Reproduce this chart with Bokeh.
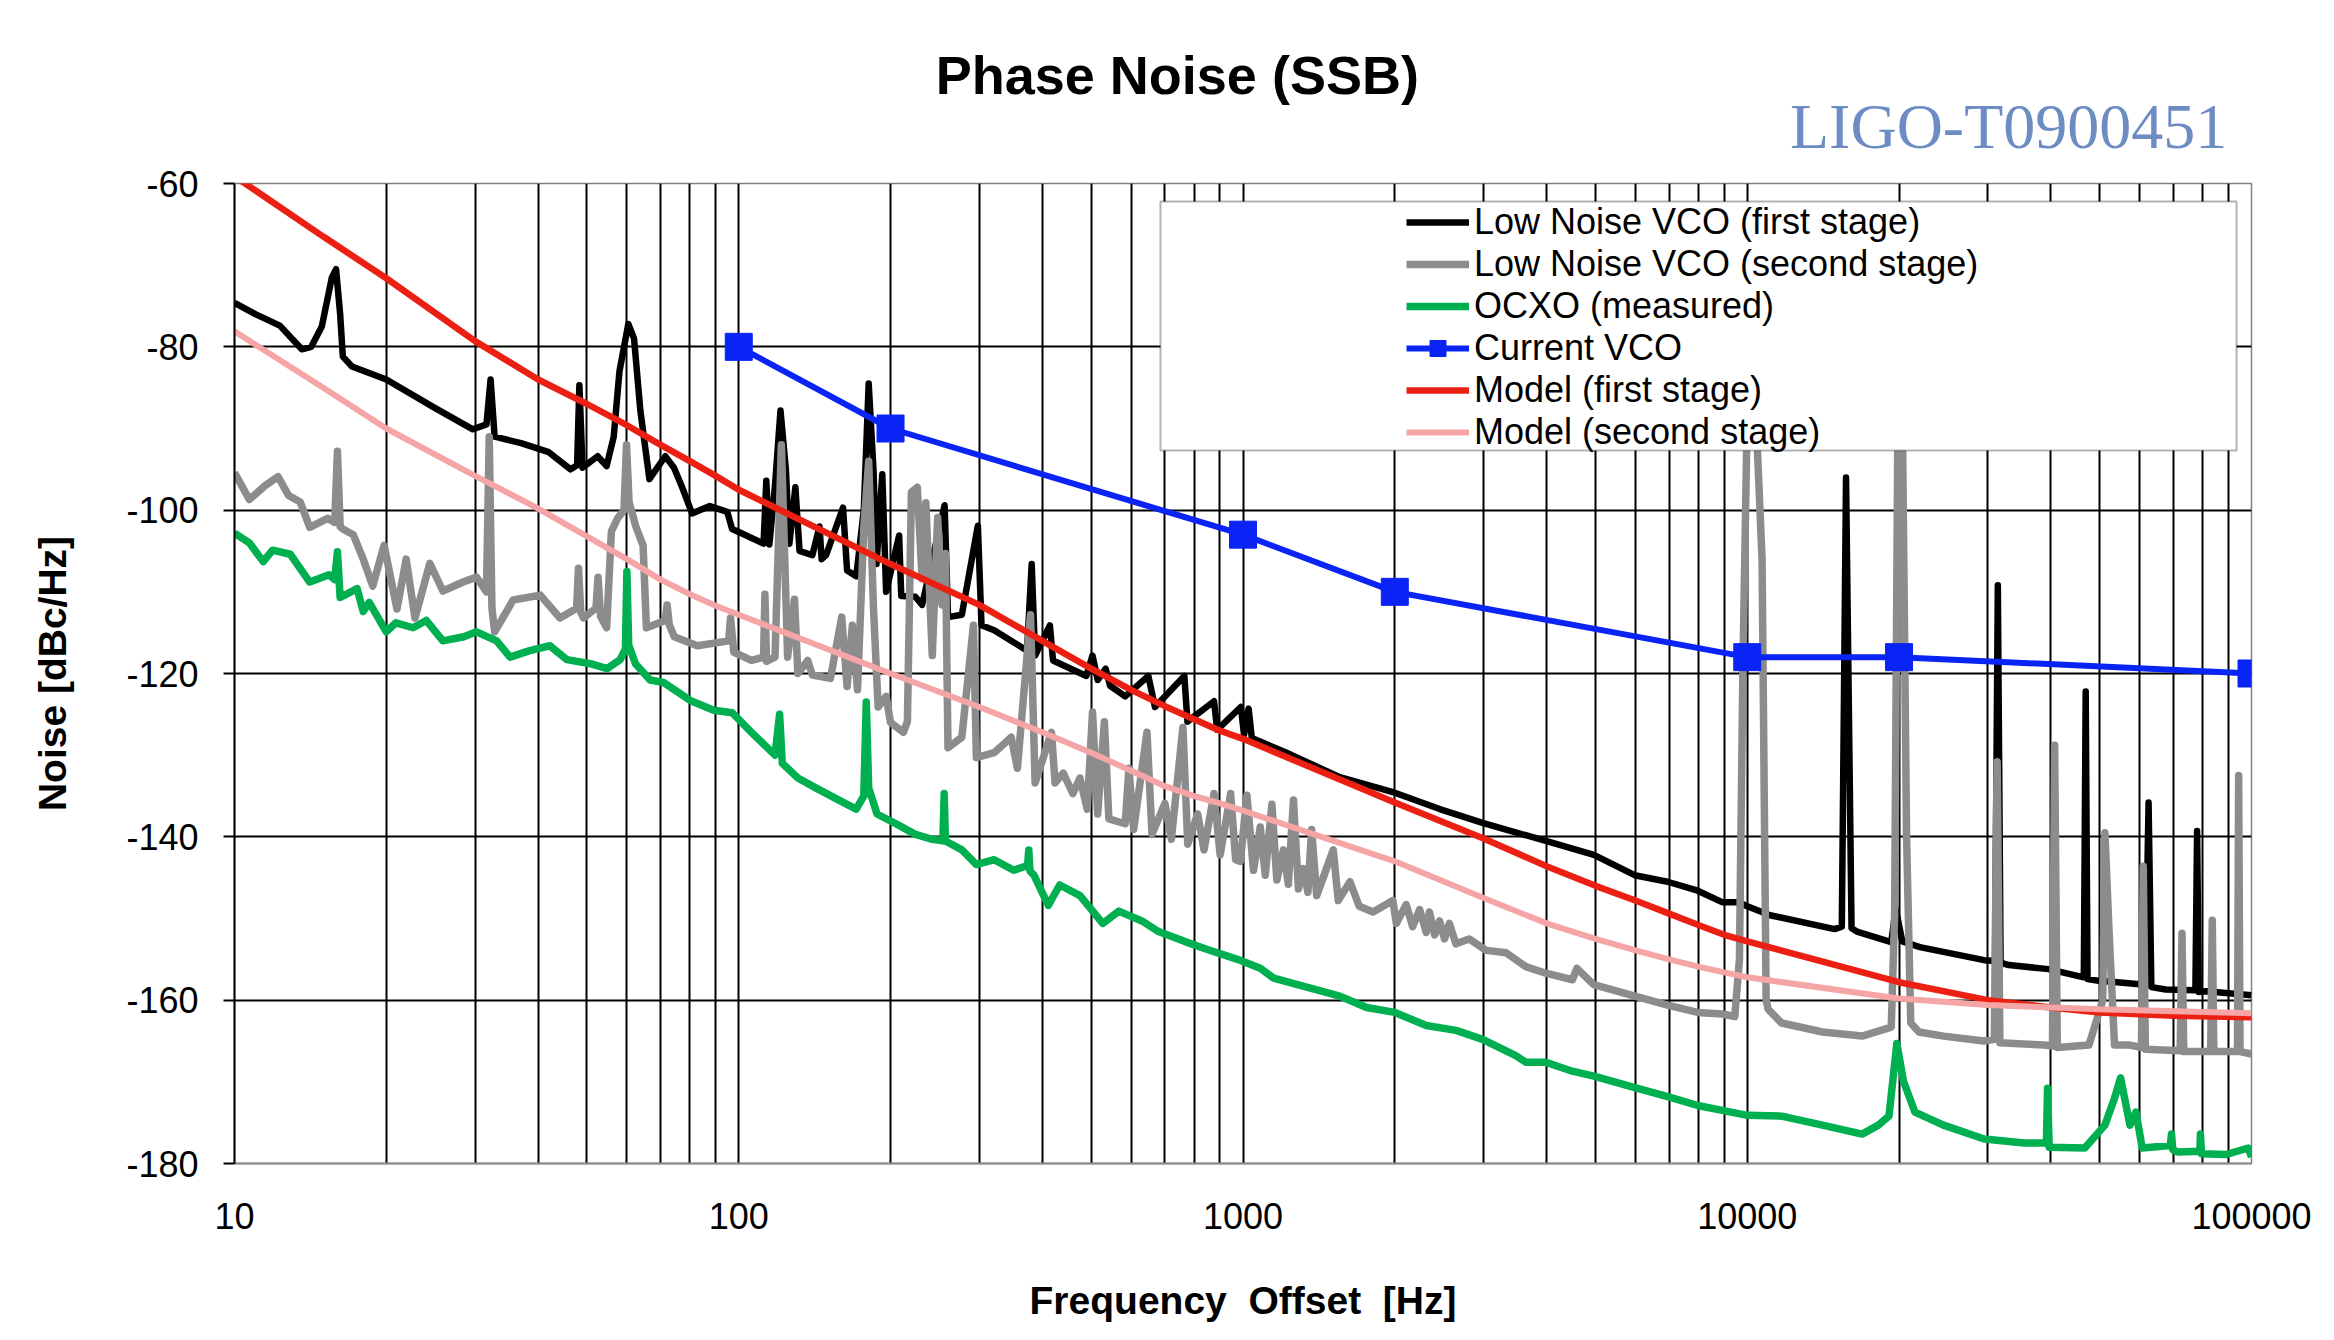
from bokeh.plotting import figure
from bokeh.layouts import column
from bokeh.models import (FixedTicker, NumeralTickFormatter, Legend, LegendItem,
                          BoxAnnotation, Label, Range1d)
from bokeh.embed import file_html
from bokeh.resources import INLINE

# ---------------- data ----------------
blk_f = [10, 11, 12.3, 13.6, 14.2, 14.9, 15.6, 15.9, 16.2, 16.4, 17.1, 20, 25, 29.7, 31.6, 32.2, 32.8,
         37, 42, 46.4, 47.8, 48.3, 49, 52.5, 54.7, 56.5, 58, 60.4, 62, 63.8, 66.5, 71.5, 74.4, 77,
         80.8, 87.6, 94.9, 97, 101, 112, 113.4, 115, 118, 121, 124, 126, 129.5, 132, 140, 144.6,
         146, 149, 161, 164, 171, 177, 181, 185, 187.6, 192.6, 196, 208, 210, 224, 231, 256, 260,
         277, 298, 303, 321, 373, 381, 387, 414, 420, 489, 503, 515, 534, 545, 584, 649, 669, 765,
         776, 876, 889, 990, 1005, 1026, 1041, 1240, 1556, 2000, 2455, 2986, 3986, 4965, 5980,
         6950, 7975, 8916, 9597, 10000, 11100, 14900, 15400, 15700, 16100, 16500, 19300, 19700,
         20300, 22000, 29500, 31000, 31400, 31800, 33000, 39600, 46500, 46900, 47300, 49400,
         61600, 62500, 63300, 67600, 77400, 78000, 78600, 81200, 100000]
blk_v = [-74.6, -76.0, -77.4, -80.3, -80.0, -77.5, -71.5, -70.5, -76, -81.2, -82.4, -84.0, -87.5,
         -90.1, -89.5, -84.0, -91.0, -91.8, -92.9, -95.0, -94.5, -84.7, -94.8, -93.4, -94.6, -91,
         -83, -77.2, -79, -87.8, -96.2, -93.4, -94.8, -97, -100.4, -99.5, -100.2, -102.3, -102.8,
         -104.1, -96.4, -104.2, -97, -87.8, -95, -104.1, -97.2, -105, -105.5, -102, -106, -105.5,
         -99.7, -107.4, -108.1, -100, -84.5, -95, -106.6, -95.6, -110, -103.1, -110.5, -110.6,
         -111.6, -99.4, -113.1, -112.8, -101.9, -114.1, -114.7, -117.2, -106.6, -117.8, -114.1,
         -118.4, -120.3, -117.8, -120.8, -119.4, -121.5, -122.8, -120.3, -124.1, -120.3, -125.9,
         -123.4, -126.9, -124.1, -127.5, -124.3, -127.9, -129.9, -132.7, -134.6, -136.6, -138.3,
         -140.5, -142.2, -144.7, -145.5, -146.6, -148.0, -148.0, -148.5, -149.6, -151.3, -151.0,
         -96.0, -151.2, -151.6, -152.9, -148.8, -152.8, -153.5, -155.1, -155.2, -109.2, -155.4,
         -155.7, -156.2, -157.2, -122.2, -157.4, -157.6, -158.1, -135.8, -158.4, -158.7, -158.8,
         -139.3, -159.0, -158.9, -159.4]

gry_f = [10, 10.7, 11.5, 12.2, 12.8, 13.5, 14.1, 15.3, 15.8, 16.0, 16.2, 16.4, 17.2, 18.0, 18.8,
         19.8, 21.0, 21.9, 22.8, 24.4, 25.9, 28.4, 30.2, 31.6, 32.0, 32.4, 32.8, 35.7, 40.4, 44.2,
         47.7, 48.1, 48.6, 49.2, 52.1, 52.6, 53.2, 54.7, 55.9, 57.5, 59.2, 59.9, 60.6, 62.5, 64.6,
         65.6, 71.5, 72.1, 72.8, 74.5, 82.8, 95.5, 96.3, 97.8, 106, 112, 112.7, 113.5, 118, 121.5,
         125, 129, 131, 137, 140, 152, 160, 164, 168, 172, 177, 181, 185, 189, 196, 200, 212, 216,
         220, 226, 231, 235, 242, 248, 253, 257, 260, 277, 292, 296, 321, 347, 357, 379, 387, 417,
         424, 440, 460, 475, 491, 503, 515, 531, 542, 584, 594, 607, 645, 660, 700, 721, 760, 777,
         813, 837, 876, 901, 945, 967, 988, 1018, 1049, 1082, 1107, 1141, 1167, 1203, 1230, 1259,
         1288, 1318, 1345, 1368, 1400, 1510, 1545, 1630, 1700, 1811, 1982, 2014, 2107, 2170, 2241,
         2309, 2343, 2400, 2454, 2510, 2566, 2644, 2808, 3034, 3324, 3638, 3986, 4500, 4594, 4960,
         5985, 6950, 7975, 8920, 9445, 9650, 9800, 10000, 10400, 10700, 10900, 11000, 11700,
         14100, 16900, 19300, 19600, 19900, 20300, 20700, 21100, 21900, 24500, 29500, 30900,
         31300, 31700, 38800, 40300, 40700, 41200, 47600, 50700, 51200, 52200, 53500, 57400,
         60500, 61000, 61600, 72200, 72800, 73400, 83000, 83600, 84200, 93800, 94300, 94900,
         100000]
gry_v = [-95.4, -98.7, -97, -95.9, -98.2, -99, -102.1, -101, -101.5, -92.8, -102, -102.3, -103,
         -106, -109.3, -104.3, -112.1, -106, -113.2, -106.5, -109.9, -108.8, -108.2, -110, -91.0,
         -112, -114.9, -111, -110.4, -113.2, -112, -107.1, -112.5, -113.2, -112, -108.2, -113,
         -114.4, -102.6, -101, -100, -92.0, -99, -102, -104.3, -114.4, -113.5, -111.6, -114,
         -115.5, -116.6, -116, -113.2, -117.4, -118.4, -118, -110.3, -118.5, -118, -92.0, -118,
         -110.9, -120, -118.4, -120.2, -120.6, -113.1, -121.6, -114.1, -122, -102.2, -94, -112,
         -124.1, -122.8, -126, -127.2, -125.9, -97.8, -97.2, -108.4, -99.1, -117.8, -100.9,
         -111.6, -105.3, -129.1, -127.8, -114.1, -130.3, -129.7, -127.8, -131.6, -112.8, -133.4,
         -127.2, -133.4, -132.2, -134.7, -132.8, -136.6, -124.7, -137.2, -125.9, -137.8, -138.4,
         -131.6, -139.1, -127.2, -139.7, -135.9, -140.3, -126.6, -140.9, -137.2, -141.6, -134.7,
         -142.2, -134.7, -142.8, -143.0, -134.9, -144.1, -138.8, -144.7, -136.0, -145.3, -141.6,
         -145.8, -135.5, -146.4, -143.9, -146.8, -139.1, -147.2, -141.6, -147.8, -145.5, -148.5,
         -149.2, -147.8, -150.6, -148.3, -151, -148.9, -151.7, -149.2, -152, -150.3, -152.5,
         -150.6, -153.1, -152.5, -153.9, -154.2, -155.9, -156.7, -157.5, -156.1, -158.1, -159.5,
         -160.6, -161.5, -161.7, -162.0, -155, -120, -88, -88, -106, -160, -161.1, -162.8,
         -163.9, -164.4, -163.3, -149.6, -88, -88, -140, -162.8, -163.9, -164.4, -165, -164.8,
         -130.8, -165.2, -165.5, -165.6, -128.8, -165.8, -165.5, -160, -139.5, -151.8, -165.5,
         -165.5, -165.8, -143.6, -166, -166.2, -151.8, -166.3, -166.3, -150.2, -166.3, -166.3,
         -132.5, -166.3, -166.6]

grn_f = [10, 10.7, 11.4, 11.9, 12.9, 14.1, 15.4, 15.8, 16.0, 16.2, 17.5, 18.0, 18.5, 20.0, 20.9,
         22.6, 24.0, 25.9, 28.5, 30.2, 33.1, 35.2, 38.5, 42.2, 45.6, 50.8, 54.8, 58.2, 59.6, 60.0,
         60.5, 62.4, 66.7, 70.9, 80.1, 89.2, 97, 106, 118, 120.5, 122, 131, 143, 159, 171, 177,
         179, 181, 188, 205, 224, 242, 254, 255.5, 257, 277, 296, 321, 351, 374, 376, 378, 385,
         411, 433, 475, 527, 567, 630, 680, 765, 850, 975, 1082, 1150, 1338, 1556, 1758, 2000,
         2309, 2645, 2986, 3475, 3637, 3986, 4498, 4965, 5985, 6955, 7975, 8920, 10000, 11700,
         14100, 16900, 18200, 19100, 19800, 20400, 21500, 24500, 29500, 35400, 39200, 39400,
         39700, 46700, 51200, 53500, 55000, 57400, 59000, 60700, 69000, 69400, 69800, 71500,
         79000, 79200, 79600, 89100, 98500, 100000]
grn_v = [-102.8, -104, -106.3, -104.9, -105.4, -108.8, -107.9, -108.5, -105.1, -110.7, -109.6,
         -112.4, -111.3, -114.9, -113.8, -114.4, -113.5, -116, -115.5, -114.9, -116, -118, -117.2,
         -116.6, -118.3, -118.8, -119.4, -118.3, -117, -107.5, -116.5, -118.8, -120.8, -121.1,
         -123.3, -124.5, -124.8, -127.2, -130, -125, -131, -132.8, -134.1, -135.6, -136.6, -135,
         -123.5, -134, -137.2, -138.4, -139.7, -140.3, -140.5, -134.7, -140.5, -141.6, -143.4,
         -142.8, -144.1, -143.5, -141.6, -144.2, -144.7, -148.4, -145.9, -147.2, -150.6, -149.1,
         -150.3, -151.6, -152.8, -153.8, -155.0, -156.1, -157.3, -158.4, -159.5, -160.9, -161.5,
         -163.1, -163.7, -164.8, -166.8, -167.6, -167.6, -168.7, -169.3, -170.7, -171.8, -172.9,
         -173.5, -174.1, -174.2, -175.3, -176.4, -175.3, -174.2, -165.3, -169.9, -173.7, -175.3,
         -177, -177.5, -177.5, -170.8, -178, -178.1, -175.3, -172, -169.5, -175.3, -173.7,
         -178.1, -177.8, -176.4, -178.3, -178.6, -178.5, -176.4, -178.8, -178.9, -178.1, -179.2]

vco_f = [100, 200, 1000, 2000, 10000, 20000, 100000]
vco_v = [-80, -90, -103, -110, -118, -118, -120]

red_f = [10, 10.5, 15, 20, 30, 40, 50, 60, 70, 80, 90, 100, 200, 300, 400, 500, 600, 700, 800,
         900, 1000, 2000, 3000, 4000, 5000, 6000, 7000, 8000, 9000, 10000, 20000, 30000, 40000,
         50000, 70000, 100000]
red_v = [-59.2, -60.0, -66.5, -71.6, -79.3, -84.0, -87.0, -89.6, -92.0, -94.0, -95.8, -97.5,
         -106.6, -111.6, -116.0, -119.4, -122.0, -124.0, -125.6, -127.0, -128.0, -135.8, -140.2,
         -143.6, -146.0, -147.8, -149.4, -150.8, -152.0, -152.8, -157.8, -160.0, -160.9, -161.5,
         -161.9, -162.1]

pnk_f = [10, 15, 20, 30, 40, 50, 60, 70, 80, 90, 100, 200, 300, 400, 500, 600, 700, 800, 900,
         1000, 2000, 3000, 4000, 5000, 6000, 7000, 8000, 9000, 10000, 20000, 30000, 50000, 100000]
pnk_v = [-78.1, -85.0, -90.0, -95.8, -99.8, -103.2, -106.0, -108.5, -110.3, -111.7, -112.8,
         -120.0, -124.1, -127.2, -129.7, -131.9, -133.8, -135.0, -135.9, -136.8, -143.0, -147.5,
         -150.6, -152.5, -153.9, -155.0, -155.9, -156.6, -157.2, -159.8, -160.6, -161.1, -161.6]

major_f = [10, 100, 1000, 10000, 100000]
minor_f = [m * d for d in (10, 100, 1000, 10000) for m in range(2, 10)]
y_ticks = [-180, -160, -140, -120, -100, -80, -60]

series_labels = ["Low Noise VCO (first stage)", "Low Noise VCO (second stage)", "OCXO (measured)",
                 "Current VCO", "Model (first stage)", "Model (second stage)"]
chart_title = "Phase Noise (SSB)"
doc_number = "LIGO-T0900451"
x_title = "Frequency \u00a0Offset \u00a0[Hz]"
y_title = "Noise [dBc/Hz]"

FONT = "Liberation Sans"
W = 2334
HEAD_H = 165

# ---------------- header strip (title + document number) ----------------
head = figure(width=W, height=HEAD_H, x_range=Range1d(0, W), y_range=Range1d(HEAD_H, 0),
              x_axis_location=None, y_axis_location=None, output_backend="svg",
              toolbar_location=None, min_border=0, outline_line_color=None,
              background_fill_color="white", border_fill_color="white")
head.grid.visible = False
head.add_layout(Label(x=1091, y=74, text=chart_title, text_align="center",
                      text_baseline="alphabetic", text_font=FONT, text_font_style="bold",
                      text_font_size="54px", text_color="black"))
head.add_layout(Label(x=1800, y=126, text=doc_number, text_align="left",
                      text_baseline="alphabetic", text_font="Liberation Serif",
                      text_font_size="64px", text_color="#6d8cc4"))

# ---------------- main chart ----------------
p = figure(width=W, height=1340 - HEAD_H, x_axis_type="log",
           x_range=Range1d(10, 100000), y_range=Range1d(-180, -60),
           output_backend="svg", toolbar_location=None,
           min_border_left=234, min_border_right=83, min_border_top=183 - HEAD_H,
           min_border_bottom=177,
           background_fill_color="white", border_fill_color="white")
p.outline_line_color = "#808080"
p.outline_line_width = 1.5

xt = FixedTicker(ticks=major_f, minor_ticks=minor_f)
p.xaxis.ticker = xt
p.xgrid.ticker = xt
p.xaxis.formatter = NumeralTickFormatter(format="0")
yt = FixedTicker(ticks=y_ticks)
p.yaxis.ticker = yt
p.ygrid.ticker = yt
p.yaxis.major_label_overrides = {v: str(v) for v in y_ticks}

for g in (p.xgrid, p.ygrid):
    g.grid_line_color = "black"
    g.grid_line_width = 2
p.xgrid.minor_grid_line_color = "black"
p.xgrid.minor_grid_line_width = 2

for ax in (p.xaxis, p.yaxis):
    ax.major_label_text_font = FONT
    ax.major_label_text_font_size = "36px"
    ax.major_label_text_color = "black"
    ax.minor_tick_line_color = None
    ax.axis_label_text_font = FONT
    ax.axis_label_text_font_style = "bold"
    ax.axis_label_text_font_size = "39px"
    ax.axis_label_text_color = "black"

p.xaxis.major_tick_line_color = None
p.xaxis.axis_line_color = "#8a8a8a"
p.xaxis.axis_line_width = 2
p.xaxis.major_label_standoff = 33
p.xaxis.axis_label = x_title
p.xaxis.axis_label_standoff = 47

p.yaxis.axis_line_color = "black"
p.yaxis.axis_line_width = 2
p.yaxis.major_tick_line_color = "black"
p.yaxis.major_tick_line_width = 2
p.yaxis.major_tick_out = 11
p.yaxis.major_tick_in = 0
p.yaxis.major_label_standoff = 25
p.yaxis.axis_label = y_title
p.yaxis.axis_label_standoff = 49

# series (drawn in the order of the original workbook)
r_blk = p.line(blk_f, blk_v, line_color="black", line_width=6.5, line_join="round")
r_gry = p.line(gry_f, gry_v, line_color="#8c8c8c", line_width=7.5, line_join="round")
r_grn = p.line(grn_f, grn_v, line_color="#00b050", line_width=7.5, line_join="round")
r_vco = p.line(vco_f, vco_v, line_color="#0a24f5", line_width=6)
r_vcm = p.scatter(vco_f, vco_v, marker="square", size=27, fill_color="#0a24f5", line_color="#0a24f5")
r_red = p.line(red_f, red_v, line_color="#ec2012", line_width=6.5)
r_pnk = p.line(pnk_f, pnk_v, line_color="#f5a5a5", line_width=6)

# legend frame (white box with black border over the plot)
box = BoxAnnotation(left=686, right=93400, top=-62.2, bottom=-92.7,
                    fill_color="white", fill_alpha=1.0, line_color="black", line_width=2)
p.add_layout(box)

legend = Legend(items=[
    LegendItem(label=series_labels[0], renderers=[r_blk]),
    LegendItem(label=series_labels[1], renderers=[r_gry]),
    LegendItem(label=series_labels[2], renderers=[r_grn]),
    LegendItem(label=series_labels[3], renderers=[r_vco, r_vcm]),
    LegendItem(label=series_labels[4], renderers=[r_red]),
    LegendItem(label=series_labels[5], renderers=[r_pnk]),
], location=(1172, 710), padding=0, margin=0, spacing=0,
    glyph_width=63, glyph_height=40, label_height=40, label_standoff=5,
    label_text_font=FONT, label_text_font_size="36px", label_text_color="black",
    background_fill_alpha=0, border_line_alpha=0)
p.add_layout(legend)

layout = column(head, p, spacing=0)
open("out.html", "w").write(file_html(layout, INLINE))
